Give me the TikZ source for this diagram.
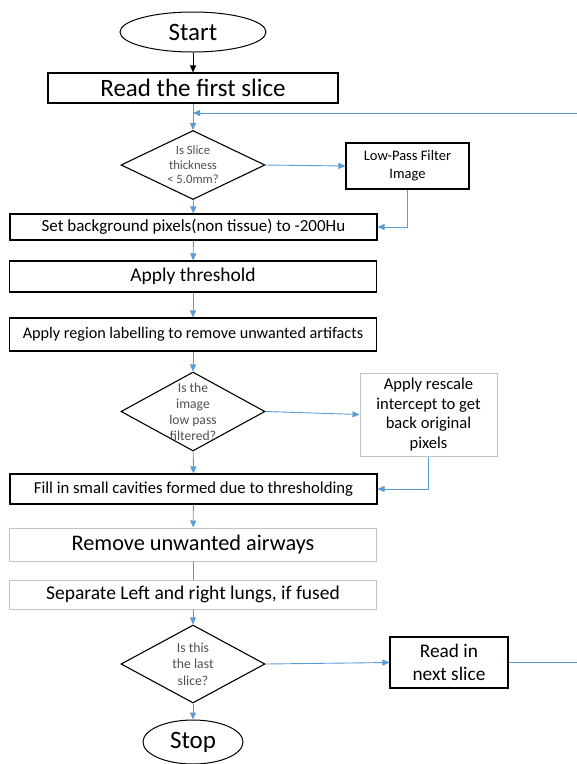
\documentclass[tikz,border=0pt]{standalone}
\usepackage{fontspec}
\setmainfont{Carlito}
\usetikzlibrary{arrows.meta, shapes.geometric}
\definecolor{flowblue}{RGB}{91,155,213}
\definecolor{boxgray}{RGB}{195,195,195}
\definecolor{askgray}{RGB}{80,80,80}
\newcommand{\fsz}[2]{\fontsize{#1}{#2}\selectfont}

\begin{document}
\begin{tikzpicture}[x=1pt, y=-1pt, >={Triangle[length=7pt,width=6pt]},
    terminal/.style={draw, ellipse, line width=1pt, inner sep=0pt},
    stepbox/.style={draw, line width=1.1pt, inner sep=0pt, align=center},
    softbox/.style={draw=boxgray, line width=1pt, inner sep=0pt, align=center},
    ask/.style={draw, diamond, shape aspect=2, line width=1.1pt, inner sep=-6pt, minimum width=144pt, align=center, text=askgray},
    flow/.style={->, draw=flowblue, line width=0.9pt}]
  \useasboundingbox (0,0) rectangle (577,764);
  \clip (0,0) rectangle (577,764);
  \node[terminal, minimum width=146pt, minimum height=40pt, font=\fsz{25}{30}] (start) at (193,32) {Start};
  \node[stepbox, minimum width=290pt, minimum height=30pt, font=\fsz{25}{30}] (read) at (193,88) {Read the first slice};
  \node[ask, minimum height=69pt, font=\fsz{12.7}{14.5}] (thick) at (193,165) {Is Slice\\thickness\\< 5.0mm?};
  \node[stepbox, minimum width=123pt, minimum height=46pt, font=\fsz{14.5}{18}] (lowpass) at (407.5,166) {Low-Pass Filter\\Image};
  \node[stepbox, minimum width=367pt, minimum height=26pt, font=\fsz{17}{20}] (background) at (193.5,227) {Set background pixels(non tissue) to -200Hu};
  \node[stepbox, minimum width=367pt, minimum height=31pt, font=\fsz{19.5}{23}] (threshold) at (193,276.5) {Apply threshold};
  \node[stepbox, minimum width=367pt, minimum height=33pt, font=\fsz{16.2}{19}] (labelling) at (193,334.5) {Apply region labelling to remove unwanted artifacts};
  \node[ask, minimum height=79pt, font=\fsz{13.6}{16}] (filtered) at (193,411.5) {Is the\\image\\low pass\\filtered?};
  \node[softbox, minimum width=137pt, minimum height=83pt, font=\fsz{16.6}{19.5}] (rescale) at (428.5,414.5) {Apply rescale\\intercept to get\\back original\\pixels};
  \node[stepbox, minimum width=367pt, minimum height=30pt, font=\fsz{16.7}{20}] (fill) at (193.5,489) {Fill in small cavities formed due to thresholding};
  \node[softbox, minimum width=367pt, minimum height=33pt, font=\fsz{22.3}{26}] (airways) at (193,544.5) {Remove unwanted airways};
  \node[softbox, minimum width=367pt, minimum height=29pt, font=\fsz{19.5}{23}] (separate) at (193,594.5) {Separate Left and right lungs, if fused};
  \node[ask, minimum height=78pt, font=\fsz{13.7}{16.7}] (last) at (193,664) {Is this\\the last\\slice?};
  \node[stepbox, minimum width=118pt, minimum height=51pt, font=\fsz{19.3}{23}] (next) at (449,662.5) {Read in\\next slice};
  \node[terminal, minimum width=100pt, minimum height=44pt, font=\fsz{25}{30}] (stop) at (193,742) {Stop};
  \coordinate (rejoin) at (193,113);
  \coordinate (loopedge) at (600,0);
  \draw[->, line width=0.8pt] (start) -- (read);
  \draw[flow] (read) -- (thick);
  \draw[flow] (thick.east) -- (lowpass.west);
  \draw[flow] (lowpass) |- (background);
  \draw[flow] (thick) -- (background);
  \draw[flow] (background) -- (threshold);
  \draw[flow] (threshold) -- (labelling);
  \draw[flow] (labelling) -- (filtered);
  \draw[flow] (filtered.east) -- (rescale.west);
  \draw[flow] (rescale) |- (fill);
  \draw[flow] (filtered) -- (fill);
  \draw[flow] (fill) -- (airways);
  \draw[flowblue, line width=0.9pt] (airways) -- (separate);
  \draw[flow] (separate) -- (last);
  \draw[flow] (last.east) -- (next.west);
  \draw[flow] (last) -- (stop);
  \draw[flow] (next.east) -- (next.east -| loopedge) |- (rejoin);
\end{tikzpicture}
\end{document}
